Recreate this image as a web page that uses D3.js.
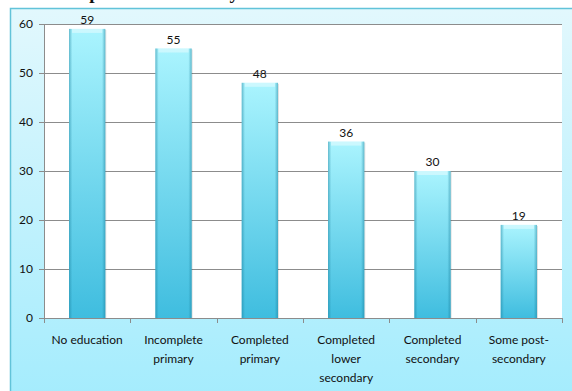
<!DOCTYPE html>
<html>
<head>
<meta charset="utf-8">
<script src="https://cdn.jsdelivr.net/npm/d3@7"></script>
<style>
  body { margin: 0; background: #fff; }
  svg { display: block; }
  .axis text { font-family: Lato, "Open Sans", sans-serif; font-size: 12px; fill: #111; }
</style>
</head>
<body>
<svg id="chart"></svg>
<script>
// data
const categories = ["No education", "Incomplete primary", "Completed primary",
  "Completed lower secondary", "Completed secondary", "Some post-secondary"];
const labelLines = [["No education"], ["Incomplete", "primary"], ["Completed", "primary"],
  ["Completed", "lower", "secondary"], ["Completed", "secondary"], ["Some post-", "secondary"]];
const values = [59, 55, 48, 36, 30, 19];
const yTicks = [0, 10, 20, 30, 40, 50, 60];

const W = 572, H = 391;
const margin = {top: 24, right: 10, bottom: 73, left: 44};
const width = W - margin.left - margin.right;
const height = H - margin.top - margin.bottom;

const svg = d3.select("#chart").attr("width", W).attr("height", H);
const defs = svg.append("defs");

// frame background
const bg = defs.append("linearGradient").attr("id", "bg").attr("x1", 0).attr("y1", 0).attr("x2", 0).attr("y2", 1);
bg.append("stop").attr("offset", "0%").attr("stop-color", "#e2f8fd");
bg.append("stop").attr("offset", "100%").attr("stop-color", "#a4ecfd");

const barV = defs.append("linearGradient").attr("id", "barV").attr("x1", 0).attr("y1", 0).attr("x2", 0).attr("y2", 1);
barV.append("stop").attr("offset", "0%").attr("stop-color", "#aaf4fe");
barV.append("stop").attr("offset", "100%").attr("stop-color", "#3fbddf");

const barH = defs.append("linearGradient").attr("id", "barH").attr("x1", 0).attr("y1", 0).attr("x2", 1).attr("y2", 0);
barH.append("stop").attr("offset", "0%").attr("stop-color", "#1a7f9c").attr("stop-opacity", 0.5);
barH.append("stop").attr("offset", "9%").attr("stop-color", "#1a7f9c").attr("stop-opacity", 0);
barH.append("stop").attr("offset", "91%").attr("stop-color", "#1a7f9c").attr("stop-opacity", 0);
barH.append("stop").attr("offset", "100%").attr("stop-color", "#1a7f9c").attr("stop-opacity", 0.5);

// title: only its descenders show above the frame, as in the source
svg.append("text")
    .attr("x", 60).attr("y", -1)
    .attr("font-family", "'Liberation Serif', serif")
    .attr("font-weight", "bold")
    .attr("font-size", 19)
    .attr("fill", "#111")
    .text("Proportion stunted by mother's education");

svg.append("rect")
    .attr("x", 10.5).attr("y", 8.5)
    .attr("width", W).attr("height", H)
    .attr("fill", "url(#bg)")
    .attr("stroke", "#62c3d9")
    .attr("stroke-width", 1.5);

const chart = svg.append("g").attr("transform", `translate(${margin.left},${margin.top})`);

chart.append("rect")
    .attr("width", width).attr("height", height)
    .attr("fill", "#fff");

const xScale = d3.scaleBand().domain(categories).range([0, width]).paddingInner(0.58).paddingOuter(0.29);
const yScale = d3.scaleLinear().domain([0, 60]).range([height, 0]);

// gridlines
chart.append("g")
  .selectAll("line")
  .data(yTicks.filter(d => d > 0))
  .join("line")
    .attr("x1", 0).attr("x2", width)
    .attr("y1", d => Math.round(yScale(d)) + 0.5)
    .attr("y2", d => Math.round(yScale(d)) + 0.5)
    .attr("stroke", "#8c8c8c");

// y axis
const yAxisG = chart.append("g").attr("class", "axis")
    .call(d3.axisLeft(yScale).tickValues(yTicks).tickSize(5).tickPadding(6).tickSizeOuter(0));
yAxisG.select(".domain").attr("stroke", "#8c8c8c");
yAxisG.selectAll(".tick line").attr("stroke", "#8c8c8c");

// bars
const bars = chart.append("g").selectAll("g")
    .data(values.map((v, i) => ({cat: categories[i], v})))
  .join("g");

bars.append("rect")
    .attr("x", d => xScale(d.cat) + 1)
    .attr("y", d => yScale(d.v) + 1)
    .attr("width", xScale.bandwidth())
    .attr("height", d => height - yScale(d.v) - 1)
    .attr("fill", "#000").attr("opacity", 0.12);

bars.append("rect")
    .attr("x", d => xScale(d.cat))
    .attr("y", d => yScale(d.v))
    .attr("width", xScale.bandwidth())
    .attr("height", d => height - yScale(d.v))
    .attr("fill", "url(#barV)");

bars.append("rect")
    .attr("x", d => xScale(d.cat))
    .attr("y", d => yScale(d.v))
    .attr("width", xScale.bandwidth())
    .attr("height", d => height - yScale(d.v))
    .attr("fill", "url(#barH)");

bars.append("rect")
    .attr("x", d => xScale(d.cat) + 3)
    .attr("y", d => yScale(d.v))
    .attr("width", xScale.bandwidth() - 6)
    .attr("height", 4)
    .attr("fill", "#fff").attr("opacity", 0.4);

bars.append("text")
    .attr("x", d => xScale(d.cat) + xScale.bandwidth() / 2)
    .attr("y", d => yScale(d.v) - 5)
    .attr("text-anchor", "middle")
    .attr("font-family", "Lato, 'Open Sans', sans-serif")
    .attr("font-size", 12)
    .attr("fill", "#111")
    .text(d => d.v);

// x axis
const xAxisG = chart.append("g").attr("class", "axis")
    .attr("transform", `translate(0,${height})`);
xAxisG.append("line")
    .attr("x1", 0).attr("x2", width).attr("y1", 0.5).attr("y2", 0.5)
    .attr("stroke", "#8c8c8c");
xAxisG.selectAll(".sep")
    .data(d3.range(categories.length + 1))
  .join("line")
    .attr("class", "sep")
    .attr("x1", i => Math.round(i * width / categories.length) + 0.5)
    .attr("x2", i => Math.round(i * width / categories.length) + 0.5)
    .attr("y1", 0).attr("y2", 5)
    .attr("stroke", "#8c8c8c");

const labels = xAxisG.selectAll(".lbl")
    .data(categories)
  .join("text")
    .attr("class", "lbl")
    .attr("text-anchor", "middle")
    .attr("transform", d => `translate(${xScale(d) + xScale.bandwidth() / 2},0)`);
labels.selectAll("tspan")
    .data((d, i) => labelLines[i])
  .join("tspan")
    .attr("x", 0)
    .attr("y", (d, j) => 26 + j * 19)
    .text(d => d);
</script>
</body>
</html>
